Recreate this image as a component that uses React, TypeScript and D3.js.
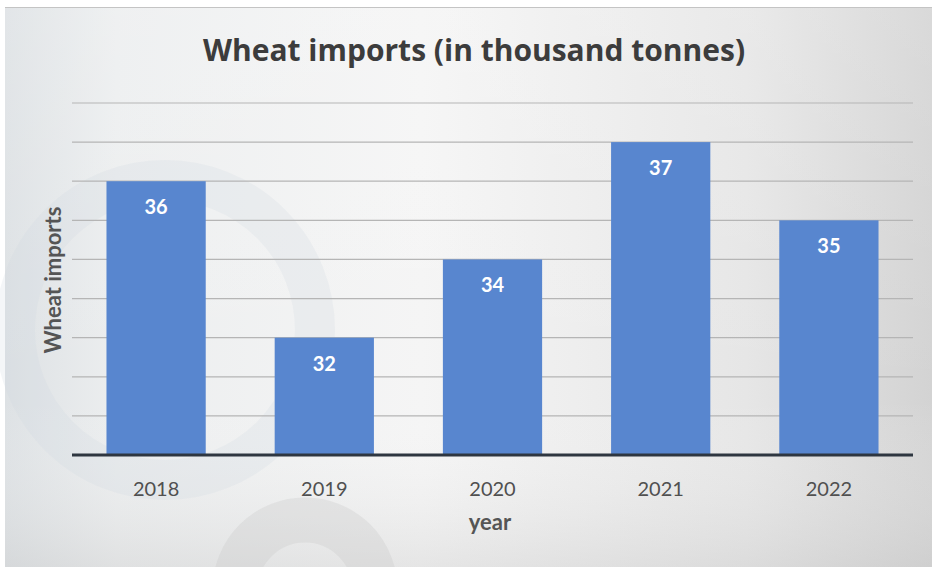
import * as d3 from "d3";

// Wheat imports bar chart — Excel-style look, plain SVG driven by d3 scales.

const years = ["2018", "2019", "2020", "2021", "2022"];
const imports = [36, 32, 34, 37, 35];
const yDomain: [number, number] = [29, 38];
const gridValues = [30, 31, 32, 33, 34, 35, 36, 37, 38];

const W = 932;
const H = 567;
const FONT = "Lato, 'Open Sans', sans-serif";
const TITLE_FONT = "'Open Sans', Lato, sans-serif";

export default function App() {
  const margin = { top: 103, right: 19, bottom: 112, left: 72 };
  const x = d3
    .scaleBand<string>()
    .domain(years)
    .range([margin.left, W - margin.right])
    .paddingInner(0.41)
    .paddingOuter(0.205);
  const y = d3
    .scaleLinear()
    .domain(yDomain)
    .range([H - margin.bottom, margin.top]);
  const base = y(yDomain[0]);

  return (
    <svg
      width={W}
      height={H}
      style={{ position: "fixed", left: 0, top: 0, display: "block" }}
    >
      <defs>
        <linearGradient id="bgH" x1="0" x2="1" y1="0" y2="0">
          <stop offset="0" stopColor="#dde1e4" />
          <stop offset="0.12" stopColor="#eceeef" />
          <stop offset="0.45" stopColor="#f5f5f5" />
          <stop offset="0.8" stopColor="#e6e6e6" />
          <stop offset="1" stopColor="#d3d3d3" />
        </linearGradient>
        <linearGradient id="bgV" x1="0" x2="0" y1="0" y2="1">
          <stop offset="0" stopColor="#ffffff" stopOpacity="0.15" />
          <stop offset="0.7" stopColor="#ffffff" stopOpacity="0" />
          <stop offset="1" stopColor="#c8c8c8" stopOpacity="0.35" />
        </linearGradient>
      </defs>
      <rect x={0} y={0} width={W} height={H} fill="#ffffff" />
      <rect x={5} y={7} width={W - 5} height={H - 7} fill="url(#bgH)" />
      <rect x={5} y={7} width={W - 5} height={H - 7} fill="url(#bgV)" />
      <line x1={5} x2={W} y1={7.5} y2={7.5} stroke="#c4c4c4" strokeWidth={1} />
      {/* faint watermark shapes */}
      <circle cx={165} cy={330} r={150} fill="none" stroke="#cdd8e0" strokeOpacity={0.22} strokeWidth={40} />
      <circle cx={305} cy={590} r={70} fill="none" stroke="#c6c6c6" strokeOpacity={0.3} strokeWidth={45} />

      {/* gridlines */}
      {gridValues.map((v) => (
        <line
          key={v}
          x1={margin.left}
          x2={W - margin.right}
          y1={y(v)}
          y2={y(v)}
          stroke="#b5b5b5"
          strokeWidth={1.2}
        />
      ))}

      {/* bars */}
      {years.map((yr, i) => (
        <rect
          key={yr}
          x={x(yr)}
          y={y(imports[i])}
          width={x.bandwidth()}
          height={base - y(imports[i])}
          fill="#5886cf"
        />
      ))}

      {/* data labels */}
      {years.map((yr, i) => (
        <text
          key={yr}
          x={(x(yr) ?? 0) + x.bandwidth() / 2}
          y={y(imports[i]) + 25}
          textAnchor="middle"
          dominantBaseline="central"
          fill="#ffffff"
          fontFamily={FONT}
          fontWeight="bold"
          fontSize={20}
        >
          {imports[i]}
        </text>
      ))}

      {/* baseline */}
      <line
        x1={margin.left}
        x2={W - margin.right}
        y1={base}
        y2={base}
        stroke="#2e3640"
        strokeWidth={3}
      />

      {/* category labels */}
      {years.map((yr) => (
        <text
          key={yr}
          x={(x(yr) ?? 0) + x.bandwidth() / 2}
          y={base + 33}
          textAnchor="middle"
          dominantBaseline="central"
          fill="#505050"
          fontFamily={FONT}
          fontSize={20}
        >
          {yr}
        </text>
      ))}

      {/* titles */}
      <text
        x={474}
        y={49}
        textAnchor="middle"
        dominantBaseline="central"
        fill="#3c3c3c"
        fontFamily={TITLE_FONT}
        fontWeight="bold"
        fontSize={30}
      >
        Wheat imports (in thousand tonnes)
      </text>
      <text
        x={490}
        y={521}
        textAnchor="middle"
        dominantBaseline="central"
        fill="#555555"
        fontFamily={FONT}
        fontWeight="bold"
        fontSize={22}
      >
        year
      </text>
      <text
        transform="translate(52,280) rotate(-90)"
        textAnchor="middle"
        dominantBaseline="central"
        fill="#555555"
        fontFamily={FONT}
        fontWeight="bold"
        fontSize={22}
      >
        Wheat imports
      </text>
    </svg>
  );
}
